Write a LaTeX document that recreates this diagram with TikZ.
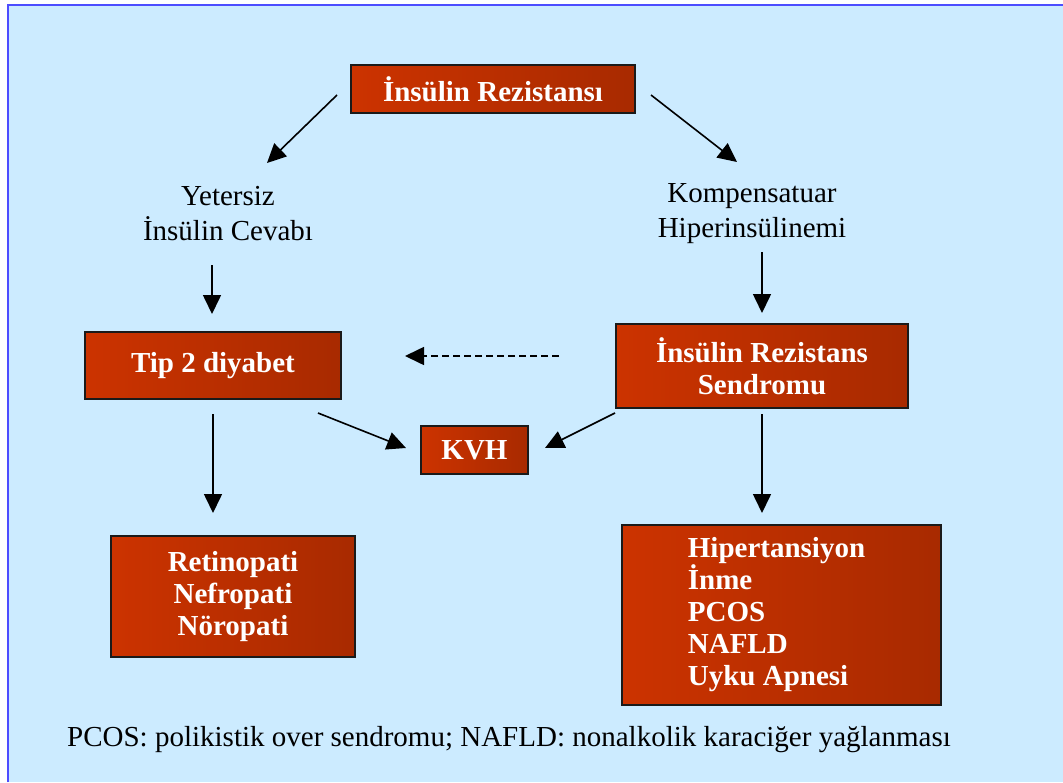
\documentclass[tikz,border=0pt]{standalone}
\usepackage{fontspec}
\setmainfont{Liberation Serif}
\usetikzlibrary{arrows.meta,shadings}
\definecolor{bgblue}{HTML}{CCEBFF}
\definecolor{frameblue}{HTML}{4D4DFF}
\definecolor{boxL}{HTML}{CC3300}
\definecolor{boxR}{HTML}{A82A00}
\definecolor{boxline}{HTML}{1A1A1A}
\tikzset{
  redbox/.style={draw=boxline, line width=1.5pt, left color=boxL, right color=boxR,
    text=white, font=\fontsize{29}{32}\selectfont\bfseries, inner sep=0pt, align=center},
  plain/.style={font=\fontsize{29}{35}\selectfont, align=center, inner sep=0pt},
  arr/.style={line width=1.6pt, draw=black, -{Triangle[length=19pt,width=18pt]}},
}
\begin{document}
\begin{tikzpicture}[x=1pt,y=-1pt]
\useasboundingbox (0,0) rectangle (1063,782);
\fill[white] (0,0) rectangle (1063,782);
\fill[bgblue] (8,5) rectangle (1063,782);
\draw[frameblue, line width=2pt] (8,782) -- (8,5) -- (1063,5);

\node[redbox, minimum width=284pt, minimum height=48pt] (b1) at (493,89) {İnsülin Rezistansı};
\node[plain] (yet) at (228,214) {Yetersiz\\İnsülin Cevabı};
\node[plain] (komp) at (752,214) {Kompensatuar\\Hiperinsülinemi};
\node[redbox, minimum width=256pt, minimum height=67pt] (tip) at (213,365.5) {Tip 2 diyabet};
\node[redbox, minimum width=292pt, minimum height=84pt] (irs) at (762,366) {İnsülin Rezistans\\Sendromu};
\node[redbox, minimum width=107pt, minimum height=48pt] (kvh) at (474.5,450) {KVH};
\node[redbox, minimum width=244pt, minimum height=121pt] (ret) at (233,596.5) {Retinopati\\Nefropati\\Nöropati};
\node[redbox, minimum width=319pt, minimum height=180pt] (hip) at (781.5,615) {};
\node[font=\fontsize{29}{32}\selectfont\bfseries, text=white, align=left, inner sep=0pt] (hiptxt) at (776.5,615) {Hipertansiyon\\İnme\\PCOS\\NAFLD\\Uyku Apnesi};
\node[plain] (foot) at (509,740) {PCOS: polikistik over sendromu; NAFLD: nonalkolik karaciğer yağlanması};

\coordinate (a1s) at (337,95);   \coordinate (a1e) at (267,163);
\coordinate (a2s) at (651,95);   \coordinate (a2e) at (737,162);
\coordinate (a3s) at (212,265);  \coordinate (a3e) at (212,314);
\coordinate (a4s) at (762,252);  \coordinate (a4e) at (762,313);
\coordinate (a5s) at (559,356);  \coordinate (a5e) at (405,356);
\coordinate (a6s) at (318,413);  \coordinate (a6e) at (406,448);
\coordinate (a7s) at (615,413);  \coordinate (a7e) at (545,448);
\coordinate (a8s) at (213,414);  \coordinate (a8e) at (213,513);
\coordinate (a9s) at (762,414);  \coordinate (a9e) at (762,513);

\draw[arr] (a1s) -- (a1e);
\draw[arr] (a2s) -- (a2e);
\draw[arr] (a3s) -- (a3e);
\draw[arr] (a4s) -- (a4e);
\draw[arr, dash pattern=on 7pt off 4pt] (a5s) -- (a5e);
\draw[arr] (a6s) -- (a6e);
\draw[arr] (a7s) -- (a7e);
\draw[arr] (a8s) -- (a8e);
\draw[arr] (a9s) -- (a9e);
\end{tikzpicture}
\end{document}
